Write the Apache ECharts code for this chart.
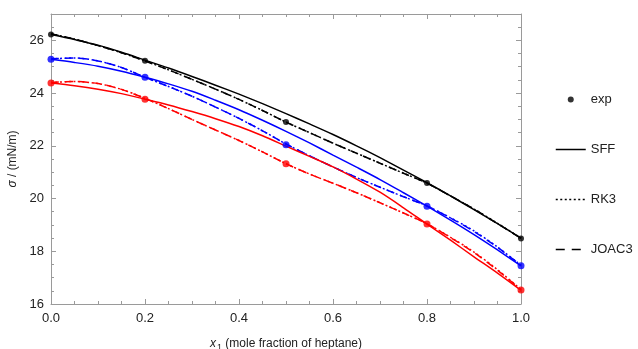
<!DOCTYPE html>
<html>
<head>
<meta charset="utf-8">
<script src="https://cdn.jsdelivr.net/npm/echarts@6/dist/echarts.min.js"></script>
<style>
html,body{margin:0;padding:0;background:#fff;}
#chart{width:638px;height:349px;}
</style>
</head>
<body>
<div id="chart"></div>
<script>
// ---- data ----
const curveX = [0, 0.05, 0.1, 0.15, 0.2, 0.25, 0.3, 0.35, 0.4, 0.45, 0.5,
                0.55, 0.6, 0.65, 0.7, 0.75, 0.8, 0.85, 0.9, 0.95, 1.0];
const expX = [0, 0.2, 0.5, 0.8, 1.0];

const expBlack = [26.22, 25.23, 22.9, 20.59, 18.48];
const expBlue  = [25.28, 24.6, 22.04, 19.71, 17.45];
const expRed   = [24.38, 23.77, 21.32, 19.03, 16.53];

const sffBlack = [26.22, 26.03, 25.82, 25.55, 25.25, 24.95, 24.63, 24.3, 23.96, 23.6, 23.22,
                  22.83, 22.43, 22.0, 21.55, 21.08, 20.6, 20.1, 19.58, 19.05, 18.5];
const rk3Black = [26.25, 26.05, 25.8, 25.53, 25.22, 24.88, 24.52, 24.15, 23.76, 23.34, 22.9,
                  22.5, 22.1, 21.72, 21.34, 20.96, 20.58, 20.1, 19.6, 19.06, 18.5];
const joacBlack = [26.25, 26.05, 25.8, 25.53, 25.22, 24.88, 24.52, 24.15, 23.76, 23.34, 22.9,
                   22.5, 22.1, 21.72, 21.34, 20.96, 20.58, 20.1, 19.6, 19.05, 18.49];

const sffBlue = [25.28, 25.16, 25.02, 24.83, 24.6, 24.35, 24.07, 23.73, 23.37, 22.97, 22.55,
                 22.11, 21.65, 21.19, 20.72, 20.22, 19.71, 19.18, 18.63, 18.05, 17.45];
const rk3Blue = [25.3, 25.33, 25.22, 24.97, 24.6, 24.25, 23.88, 23.47, 23.04, 22.57, 22.07,
                 21.62, 21.2, 20.8, 20.43, 20.07, 19.72, 19.27, 18.77, 18.16, 17.47];
const joacBlue = [25.3, 25.33, 25.22, 24.97, 24.6, 24.25, 23.88, 23.47, 23.04, 22.57, 22.07,
                  21.62, 21.2, 20.8, 20.43, 20.07, 19.72, 19.26, 18.75, 18.15, 17.46];

const sffRed = [24.38, 24.28, 24.15, 23.98, 23.77, 23.55, 23.3, 23.03, 22.73, 22.38, 21.99,
                21.6, 21.2, 20.74, 20.24, 19.65, 19.03, 18.42, 17.79, 17.17, 16.52];
const rk3Red = [24.4, 24.44, 24.36, 24.14, 23.8, 23.41, 23.0, 22.6, 22.2, 21.77, 21.32,
                20.93, 20.58, 20.22, 19.84, 19.45, 19.04, 18.53, 17.97, 17.3, 16.55];
const joacRed = [24.4, 24.44, 24.36, 24.14, 23.8, 23.41, 23.0, 22.6, 22.2, 21.77, 21.32,
                 20.93, 20.58, 20.22, 19.84, 19.45, 19.04, 18.52, 17.95, 17.28, 16.54];

const xTicks = [0, 0.2, 0.4, 0.6, 0.8, 1.0];
const yTicks = [16, 18, 20, 22, 24, 26];
const legendNames = ['exp', 'SFF', 'RK3', 'JOAC3'];

// ---- build ----
const BLACK = '#000000', BLUE = '#0000ff', RED = '#ff0000';
const zip = (xs, ys) => xs.map((x, i) => [x, ys[i]]);
const FONT = 'Liberation Sans, Arial, sans-serif';
const AX = '#9a9a9a';
const NONE = 'rgba(0,0,0,0)';

function lineSeries(name, ys, color, type) {
  return {
    name, type: 'line', data: zip(curveX, ys), smooth: 0.3, symbol: 'none',
    lineStyle: { color, width: 1.5, type }, itemStyle: { color }, z: 2, silent: true
  };
}
function expSeries(ys, color, size) {
  return {
    name: 'exp', type: 'scatter', data: zip(expX, ys), symbol: 'circle', symbolSize: size,
    itemStyle: { color }, z: 5, silent: true
  };
}

const dotted = [2, 2.5];
const dashed = [8, 6];

const series = [
  lineSeries('SFF', sffBlack, BLACK, 'solid'),
  lineSeries('RK3', rk3Black, BLACK, dotted),
  lineSeries('JOAC3', joacBlack, BLACK, dashed),
  lineSeries('SFF', sffBlue, BLUE, 'solid'),
  lineSeries('RK3', rk3Blue, BLUE, dotted),
  lineSeries('JOAC3', joacBlue, BLUE, dashed),
  lineSeries('SFF', sffRed, RED, 'solid'),
  lineSeries('RK3', rk3Red, RED, dotted),
  lineSeries('JOAC3', joacRed, RED, dashed),
  expSeries(expBlack, BLACK, 6),
  expSeries(expBlue, BLUE, 7),
  expSeries(expRed, RED, 7)
];

function baseAxis(extra) {
  return Object.assign({
    type: 'value',
    axisLine: { show: true, onZero: false, lineStyle: { color: AX, width: 1 } },
    axisTick: { show: true, inside: true, length: 5, lineStyle: { color: AX } },
    minorTick: { show: true, splitNumber: 4, length: 3, lineStyle: { color: AX } },
    splitLine: { show: false },
    minorSplitLine: { show: false }
  }, extra);
}

const option = {
  animation: false,
  backgroundColor: '#ffffff',
  textStyle: { fontFamily: FONT },
  grid: { left: 51, right: 117, top: 14, bottom: 45, containLabel: false, outerBoundsMode: 'none' },
  legend: {
    orient: 'vertical', left: 550, top: 88,
    itemWidth: 30, itemHeight: 6, itemGap: 37, itemTextGap: 10,
    selectedMode: false,
    textStyle: { fontSize: 13, color: '#222', fontFamily: FONT },
    data: [
      { name: legendNames[0], icon: 'circle', itemStyle: { color: BLACK } },
      { name: legendNames[1], itemStyle: { color: NONE, borderWidth: 0 }, lineStyle: { color: BLACK, type: 'solid', width: 1.5 } },
      { name: legendNames[2], itemStyle: { color: NONE, borderWidth: 0 }, lineStyle: { color: BLACK, type: dotted, width: 1.5 } },
      { name: legendNames[3], itemStyle: { color: NONE, borderWidth: 0 }, lineStyle: { color: BLACK, type: [9, 7], width: 1.5 } }
    ]
  },
  xAxis: [
    baseAxis({
      position: 'bottom', min: xTicks[0], max: xTicks[xTicks.length - 1], interval: 0.2,
      axisLabel: { fontSize: 13, color: '#222', margin: 8, formatter: v => v.toFixed(1) },
      name: '{i|x}{s|1} (mole fraction of heptane)', nameLocation: 'middle', nameGap: 32,
      nameTextStyle: {
        fontSize: 12, color: '#222',
        rich: {
          i: { fontStyle: 'italic', fontSize: 12, color: '#222' },
          s: { fontSize: 9, color: '#222', padding: [7, 0, 0, 1] }
        }
      }
    }),
    baseAxis({
      position: 'top', min: 0, max: 1, interval: 0.2,
      axisLabel: { show: false }
    })
  ],
  yAxis: [
    baseAxis({
      position: 'left', min: yTicks[0], max: 27, interval: 2,
      axisLabel: { fontSize: 13, color: '#222', margin: 7, showMaxLabel: false },
      name: '{i|σ} / (mN/m)', nameLocation: 'middle', nameGap: 32, nameRotate: 90,
      nameTextStyle: {
        fontSize: 12, color: '#222',
        rich: { i: { fontStyle: 'italic', fontSize: 12, color: '#222' } }
      }
    }),
    baseAxis({
      position: 'right', min: 16, max: 27, interval: 2,
      axisLabel: { show: false }
    })
  ],
  series
};

const chart = echarts.init(document.getElementById('chart'), null, { renderer: 'canvas' });
chart.setOption(option);
</script>
</body>
</html>
